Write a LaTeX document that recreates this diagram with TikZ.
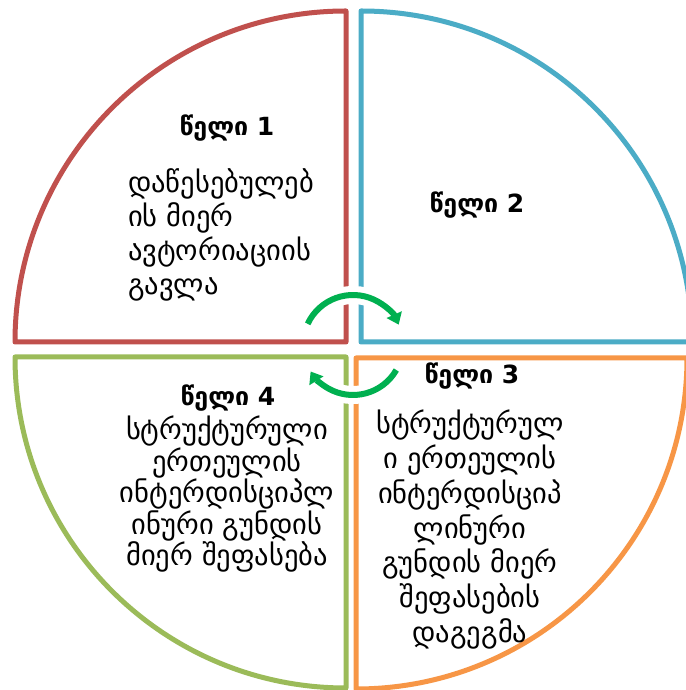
\documentclass[tikz,border=0pt]{standalone}
\usepackage{fontspec}
\setmainfont{DejaVu Sans}
\usetikzlibrary{arrows.meta}
\definecolor{cred}{HTML}{C0504D}
\definecolor{cblue}{HTML}{4BACC6}
\definecolor{cgreen}{HTML}{9BBB59}
\definecolor{corange}{HTML}{F79646}
\definecolor{carrow}{HTML}{00B050}
\begin{document}
\begin{tikzpicture}[x=1pt,y=1pt,
 sector/.style={line width=5pt, line join=round, fill=white},
 title/.style={font=\fontsize{25}{28}\selectfont\bfseries, inner sep=0pt},
 body/.style={font=\fontsize{28.5}{34}\selectfont, inner sep=0pt},
 halo/.style={draw=white, line width=18pt},
 cyc/.style={draw=carrow, line width=6pt, -{Triangle[width=16pt,length=11pt]}}]
\useasboundingbox (0,0) rectangle (685,690);
% sectors
\draw[sector, draw=cred] (346,348) -- (346,679) arc[start angle=90, end angle=180, radius=331] -- cycle;
\draw[sector, draw=cblue] (361,348) -- (361,679) arc[start angle=90, end angle=0, radius=331] -- cycle;
\draw[sector, draw=cgreen] (346,333) -- (15,333) arc[start angle=180, end angle=270, radius=331] -- cycle;
\draw[sector, draw=corange] (356,332) -- (356,1) arc[start angle=270, end angle=360, radius=331] -- cycle;
% cycle arrows
\coordinate (c) at (353,345);
\draw[halo] ([shift={(155:50)}]c) arc[start angle=155, end angle=24, radius=50];
\draw[halo] ([shift={(-30:50)}]c) arc[start angle=-30, end angle=-148, radius=50];
\draw[cyc] ([shift={(155:50)}]c) arc[start angle=155, end angle=24, radius=50];
\draw[cyc] ([shift={(-30:50)}]c) arc[start angle=-30, end angle=-148, radius=50];
% texts
\node[title] (t1) at (227,562) {წელი 1};
\node[body, anchor=north west, align=left] (b1) at (128,522) {დაწესებულებ\\ის მიერ\\ავტორიაციის\\გავლა};
\node[title] (t2) at (477,485) {წელი 2};
\node[title] (t3) at (472,314) {წელი 3};
\node[body, anchor=north, align=center, font=\fontsize{28.5}{34.7}\selectfont] (b3) at (470,280) {სტრუქტურულ\\ი ერთეულის\\ინტერდისციპ\\ლინური\\გუნდის მიერ\\შეფასების\\დაგეგმა};
\node[title] (t4) at (228,292) {წელი 4};
\node[body, anchor=north, align=center, font=\fontsize{28.5}{31.5}\selectfont] (b4) at (227,274) {სტრუქტურული\\ერთეულის\\ინტერდისციპლ\\ინური გუნდის\\მიერ შეფასება};
\end{tikzpicture}
\end{document}
